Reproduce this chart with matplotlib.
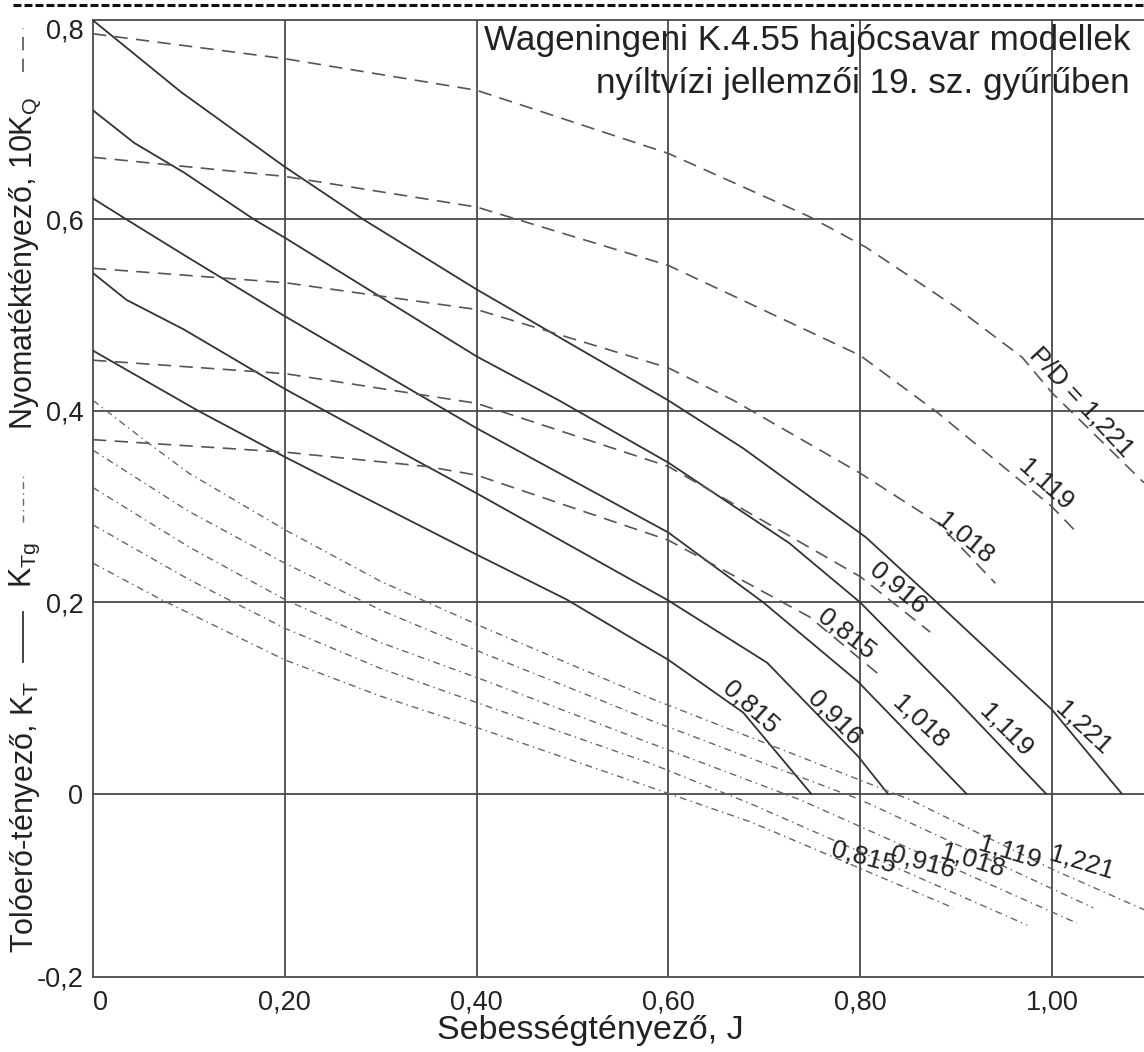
import matplotlib.pyplot as plt
from matplotlib.lines import Line2D

plt.rcParams['font.family'] = ['Liberation Sans', 'DejaVu Sans']
plt.rcParams['mathtext.fontset'] = 'custom'
plt.rcParams['mathtext.rm'] = 'Liberation Sans'

# P/D labels of the five propellers
pd_labels = ["0,815", "0,916", "1,018", "1,119", "1,221"]

# K_T (solid)
kt_j = [
    [0, 0.11, 0.2, 0.4, 0.494, 0.6, 0.678, 0.749],
    [0, 0.035, 0.095, 0.2, 0.4, 0.6, 0.703, 0.798, 0.829],
    [0, 0.035, 0.098, 0.2, 0.4, 0.6, 0.699, 0.798, 0.911],
    [0, 0.043, 0.095, 0.168, 0.2, 0.4, 0.486, 0.6, 0.726, 0.8, 0.894, 0.994],
    [0, 0.092, 0.2, 0.282, 0.4, 0.6, 0.678, 0.806, 0.88, 1.0, 1.073],
]
kt_val = [
    [0.463, 0.4, 0.352, 0.25, 0.203, 0.14, 0.085, 0.0],
    [0.544, 0.516, 0.485, 0.423, 0.314, 0.202, 0.137, 0.039, 0.0],
    [0.622, 0.6, 0.561, 0.499, 0.382, 0.273, 0.2, 0.117, 0.0],
    [0.714, 0.68, 0.649, 0.6, 0.581, 0.457, 0.411, 0.346, 0.262, 0.2, 0.105, 0.0],
    [0.808, 0.733, 0.655, 0.6, 0.527, 0.411, 0.361, 0.268, 0.2, 0.088, 0.0],
]

# 10K_Q (dashed)
kq_j = [
    [0, 0.2, 0.348, 0.4, 0.6, 0.747, 0.818],
    [0, 0.2, 0.4, 0.6, 0.8, 0.873],
    [0, 0.2, 0.4, 0.6, 0.668, 0.8, 0.881, 0.941],
    [0, 0.2, 0.4, 0.6, 0.8, 0.881, 1.0, 1.026],
    [0, 0.2, 0.4, 0.6, 0.747, 0.806, 0.899, 0.969, 1.0, 1.096],
]
kq_val = [
    [0.370, 0.357, 0.342, 0.333, 0.265, 0.185, 0.126],
    [0.453, 0.439, 0.408, 0.342, 0.227, 0.169],
    [0.549, 0.534, 0.506, 0.445, 0.411, 0.335, 0.283, 0.220],
    [0.665, 0.645, 0.613, 0.552, 0.458, 0.398, 0.300, 0.273],
    [0.794, 0.768, 0.735, 0.669, 0.603, 0.571, 0.509, 0.456, 0.419, 0.325],
]

# K_Tg (dash-dot)
ktg_j = [
    [0, 0.071, 0.2, 0.3, 0.407, 0.581, 0.685, 0.897],
    [0, 0.1, 0.2, 0.3, 0.407, 0.581, 0.685, 0.974],
    [0, 0.1, 0.2, 0.3, 0.407, 0.581, 0.737, 1.026],
    [0, 0.1, 0.2, 0.3, 0.407, 0.581, 0.8, 1.043],
    [0, 0.053, 0.1, 0.2, 0.3, 0.407, 0.581, 0.852, 1.001, 1.096],
]
ktg_val = [
    [0.241, 0.203, 0.140, 0.102, 0.067, 0.007, -0.029, -0.119],
    [0.281, 0.224, 0.173, 0.131, 0.093, 0.032, -0.010, -0.137],
    [0.320, 0.258, 0.203, 0.158, 0.119, 0.053, -0.006, -0.135],
    [0.359, 0.295, 0.241, 0.192, 0.147, 0.077, -0.006, -0.119],
    [0.411, 0.370, 0.335, 0.276, 0.222, 0.174, 0.100, -0.006, -0.079, -0.121],
]

x_ticks = [0, 0.2, 0.4, 0.6, 0.8, 1.0]
x_labels = ["0", "0,20", "0,40", "0,60", "0,80", "1,00"]
y_ticks = [-0.1913, 0, 0.2, 0.4, 0.6, 0.8]
y_labels = ["-0,2", "0", "0,2", "0,4", "0,6", "0,8"]

W, H = 1144, 1052
fig = plt.figure(figsize=(W / 100, H / 100), dpi=100)
ax = fig.add_axes([93 / W, 1 - 977 / H, 1 - 93 / W, (977 - 20) / H])
ax.set_xlim(0, 1.096)
ax.set_ylim(-0.1913, 0.8084)

grid_col = "#4a4a4a"
txt_col = "#222222"
for x in x_ticks[1:]:
    ax.axvline(x, color=grid_col, lw=1.3, zorder=1)
for y in y_ticks[1:-1]:
    ax.axhline(y, color=grid_col, lw=1.3, zorder=1)

for s in ["left", "top", "bottom"]:
    ax.spines[s].set_color(grid_col)
    ax.spines[s].set_linewidth(1.3)
ax.spines["right"].set_visible(False)

ax.set_xticks(x_ticks)
ax.set_xticklabels(x_labels, fontsize=19.5, color=txt_col)
ax.set_yticks(y_ticks)
ax.set_yticklabels(y_labels, fontsize=19.5, color=txt_col)
ax.tick_params(axis="y", length=0, pad=7)
ax.tick_params(axis="x", length=0, pad=9)
ax.get_xticklabels()[0].set_horizontalalignment("left")

for j, v in zip(kt_j, kt_val):
    ax.plot(j, v, color="#333333", lw=1.3, zorder=3)
for j, v in zip(kq_j, kq_val):
    ax.plot(j, v, color="#555555", lw=1.2, linestyle=(0, (8, 5)), zorder=3)
for j, v in zip(ktg_j, ktg_val):
    ax.plot(j, v, color="#666666", lw=1.0, linestyle=(0, (5, 3, 1, 3)), zorder=3)

# curve labels
kt_pos = [(0.686, 0.090, -42), (0.774, 0.079, -45), (0.8625, 0.075, -43),
          (0.952, 0.067, -45), (1.033, 0.069, -43)]
kq_pos = [(0.786, 0.167, -38), (0.839, 0.215, -40), (0.909, 0.267, -40),
          (0.994, 0.323, -42), (1.031, 0.409, -47)]
ktg_pos = [(0.804, -0.066, -15), (0.865, -0.072, -15), (0.917, -0.070, -17),
           (0.956, -0.061, -17), (1.031, -0.072, -17)]

for lab, (x, y, r) in zip(pd_labels, kt_pos):
    ax.text(x, y, lab, rotation=r, rotation_mode="anchor", ha="center",
            va="center", fontsize=19, color=txt_col, zorder=4)
for i, (lab, (x, y, r)) in enumerate(zip(pd_labels, kq_pos)):
    if i == 4:
        lab = "P/D = " + lab
    ax.text(x, y, lab, rotation=r, rotation_mode="anchor", ha="center",
            va="center", fontsize=19, color=txt_col, zorder=4)
for lab, (x, y, r) in zip(pd_labels, ktg_pos):
    ax.text(x, y, lab, rotation=r, rotation_mode="anchor", ha="center",
            va="center", fontsize=19, color=txt_col, zorder=4)

# title in the upper right corner
fig.text(1130 / W, 1 - 50 / H, "Wageningeni K.4.55 hajócsavar modellek",
         ha="right", va="baseline", fontsize=25.3, color=txt_col)
fig.text(1130 / W, 1 - 93 / H, "nyíltvízi jellemzői 19. sz. gyűrűben",
         ha="right", va="baseline", fontsize=25.3, color=txt_col)

# axis labels
fig.text(590 / W, 1 - 1030 / H, "Sebességtényező, J", ha="center",
         va="center", fontsize=24.5, color=txt_col)

fig.text(25 / W, 1 - 953 / H, r"Tolóerő-tényező, $\mathrm{K_T}$", rotation=90,
         ha="center", va="bottom", fontsize=22, color=txt_col)
fig.text(25 / W, 1 - 588 / H, r"$\mathrm{K_{Tg}}$", rotation=90,
         ha="center", va="bottom", fontsize=22, color=txt_col)
fig.text(25 / W, 1 - 430 / H, r"Nyomatéktényező, 10$\mathrm{K_Q}$", rotation=90,
         ha="center", va="bottom", fontsize=22, color=txt_col)

# line samples next to the y label
fig.add_artist(Line2D([23 / W, 23 / W], [1 - 662 / H, 1 - 612 / H],
                      color="#333333", lw=1.3))
fig.add_artist(Line2D([23 / W, 23 / W], [1 - 522 / H, 1 - 475 / H],
                      color="#666666", lw=1.0, linestyle=(0, (5, 3, 1, 3))))
fig.add_artist(Line2D([23 / W, 23 / W], [1 - 72 / H, 1 - 28 / H],
                      color="#555555", lw=1.2, linestyle=(0, (8, 5))))

# dashed rule at the very top of the page
fig.add_artist(Line2D([13 / W, 1.0], [1 - 5 / H, 1 - 5 / H],
                      color="#111111", lw=2.2, linestyle=(0, (2.6, 1.0))))

fig.savefig("out.png", dpi=100)
